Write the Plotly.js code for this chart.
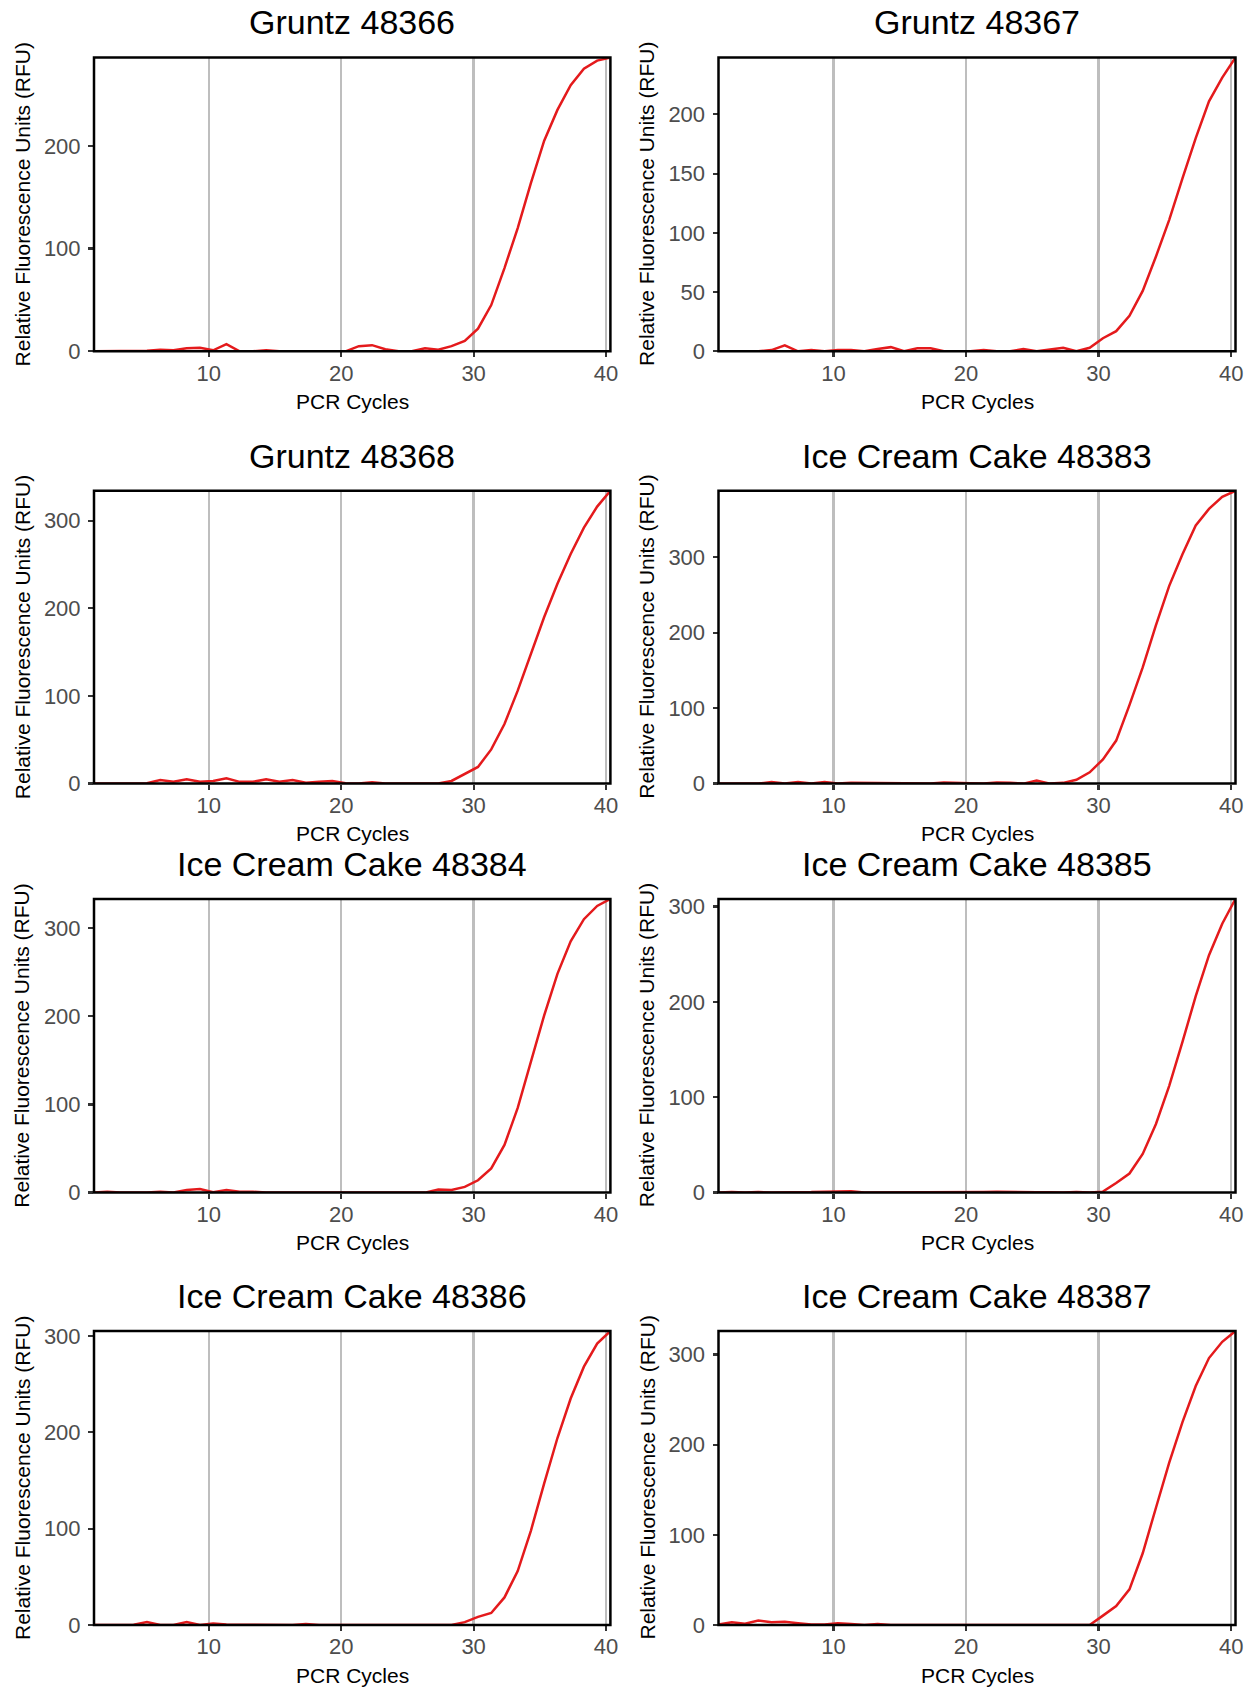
<!DOCTYPE html>
<html>
<head>
<meta charset="utf-8">
<script src="https://cdn.plot.ly/plotly-3.0.1.min.js"></script>
<style>
  html, body { margin: 0; padding: 0; background: #ffffff; }
  #chart { width: 1252px; height: 1687px; }
</style>
</head>
<body>
<div id="chart"></div>
<script>
// ---------- DATA ----------
const sampleTitles = [
  "Gruntz 48366", "Gruntz 48367",
  "Gruntz 48368", "Ice Cream Cake 48383",
  "Ice Cream Cake 48384", "Ice Cream Cake 48385",
  "Ice Cream Cake 48386", "Ice Cream Cake 48387"
];

const cycles = [1.33, 2.33, 3.33, 4.33, 5.33, 6.33, 7.33, 8.33, 9.33, 10.33,
                11.33, 12.33, 13.33, 14.33, 15.33, 16.33, 17.33, 18.33, 19.33, 20.33,
                21.33, 22.33, 23.33, 24.33, 25.33, 26.33, 27.33, 28.33, 29.33, 30.33,
                31.33, 32.33, 33.33, 34.33, 35.33, 36.33, 37.33, 38.33, 39.33, 40.33];

const xTickValues = [10, 20, 30, 40];

const rfuGruntz48366 = [0, 0, 0, 0, 0.5, 1.5, 1, 3, 3.5, 1,
                        7, 0, 0, 1, 0, 0, 0, 0, 0, 0,
                        5, 6, 2, 0, 0, 3, 1.5, 5, 10, 22,
                        45, 81, 120, 164, 205, 235, 259, 275, 283, 286];

const rfuGruntz48367 = [0, 0, 0, 0, 1, 5, 0, 1, 0, 1,
                        1, 0, 2, 3.5, 0, 2.5, 2.5, 0, 0, 0,
                        1, 0, 0, 2, 0, 1.5, 3, 0, 3, 11,
                        17, 30, 51, 80, 111, 146, 180, 211, 231, 248];

const rfuGruntz48368 = [0, 0, 0, 0, 0.5, 4, 2, 5, 2, 3,
                        6, 2, 2, 5, 2, 4, 1, 2, 3, 0.5,
                        0, 1.5, 0, 0, 0, 0, 0, 3, 11, 19,
                        39, 68, 106, 148, 190, 228, 262, 292, 316, 334];

const rfuIceCreamCake48383 = [0, 0, 0, 0, 2, 0, 2, 0, 2, 0,
                              1, 1, 0, 0, 0, 0, 0, 1.5, 0.5, 0.5,
                              0, 1.5, 1, 0, 4, 0, 1, 5, 15, 32,
                              57, 104, 154, 210, 262, 304, 342, 364, 380, 388];

const rfuIceCreamCake48384 = [0, 1, 0, 0, 0, 1, 0, 3, 4, 0.5,
                              3, 1, 1, 0, 0, 0.5, 0, 0, 0, 0,
                              0.5, 0, 0.5, 0, 0, 0, 3.5, 3, 6.5, 14,
                              27.5, 54, 96, 147, 201, 248, 285, 310, 325, 333];

const rfuIceCreamCake48385 = [0, 0.5, 0, 0.5, 0, 0, 0, 0.5, 1, 1,
                              1.5, 0, 0, 0.5, 0.5, 0, 0.3, 0, 0, 0,
                              0.5, 0.8, 0.5, 0, 0.3, 0.3, 0, 0.5, 0, 1,
                              10, 20, 40.5, 72, 112, 158, 206, 249, 282, 308];

const rfuIceCreamCake48386 = [0, 0, 0.5, 0.3, 3, 0, 0, 3, 0, 1.5,
                              0.5, 0.5, 0, 0, 0, 0, 1, 0, 0, 0,
                              0, 0, 0, 0, 0, 0.5, 0.5, 0, 3, 8.4,
                              12.5, 28.6, 56, 98, 147, 194, 235, 268, 292, 305];

const rfuIceCreamCake48387 = [0.5, 3, 1.5, 5, 3, 3.5, 2, 0.5, 0.5, 2,
                              1, 0, 1, 0, 0, 0, 0, 0, 0, 0,
                              0, 0, 0, 0, 0, 0, 0, 0, 0, 10.4,
                              21, 39.5, 79.5, 130, 180, 225, 265, 296, 314, 326];

const yTickStep = [100, 50, 100, 100, 100, 100, 100, 100];

const xAxisTitle = "PCR Cycles";
const yAxisTitle = "Relative Fluorescence Units (RFU)";

const seriesList = [rfuGruntz48366, rfuGruntz48367, rfuGruntz48368, rfuIceCreamCake48383,
                    rfuIceCreamCake48384, rfuIceCreamCake48385, rfuIceCreamCake48386, rfuIceCreamCake48387];

// ---------- LAYOUT GEOMETRY (pixels) ----------
const W = 1252, H = 1687;
const colLeft = [94, 718.5];
const colRight = [610.4, 1235.5];
const rowTop = [57.5, 490.8, 898.9, 1331];
const rowBottom = [351.3, 783.6, 1192.6, 1625];

const px2x = p => p / W;
const px2y = p => 1 - p / H;

const FONT = '"Liberation Sans", Arial, Helvetica, sans-serif';
const LINE_RED = '#E41A1C';

const traces = [];
const layout = {
  width: W, height: H,
  margin: {l: 0, r: 0, t: 0, b: 0},
  paper_bgcolor: '#ffffff',
  plot_bgcolor: '#ffffff',
  showlegend: false,
  font: {family: FONT, color: '#000000'},
  annotations: [],
  shapes: []
};

for (let i = 0; i < seriesList.length; i++) {
  const col = i % 2, row = Math.floor(i / 2);
  const k = i === 0 ? '' : String(i + 1);
  const xa = 'x' + k, ya = 'y' + k;
  const ys = seriesList[i];

  traces.push({
    type: 'scatter', mode: 'lines',
    x: cycles, y: ys,
    xaxis: xa, yaxis: ya,
    line: {color: LINE_RED, width: 2.5},
    hoverinfo: 'x+y'
  });

  layout['xaxis' + k] = {
    domain: [px2x(colLeft[col]), px2x(colRight[col])],
    anchor: ya,
    range: [cycles[0], cycles[cycles.length - 1]],
    tickmode: 'array', tickvals: xTickValues,
    ticktext: xTickValues.map(String),
    showgrid: true, gridcolor: '#BEBEBE', gridwidth: 2.5,
    zeroline: false, showline: false,
    ticks: 'outside', ticklen: 5, tickwidth: 2.2, tickcolor: '#333333',
    tickfont: {family: FONT, size: 22, color: '#4D4D4D'},
    ticklabelstandoff: -3,
    fixedrange: true
  };
  layout['yaxis' + k] = {
    domain: [px2y(rowBottom[row]), px2y(rowTop[row])],
    anchor: xa,
    range: [0, Math.max.apply(null, ys)],
    tickmode: 'linear', tick0: 0, dtick: yTickStep[i],
    showgrid: false, zeroline: false, showline: false,
    ticks: 'outside', ticklen: 5, tickwidth: 2.2, tickcolor: '#333333',
    tickfont: {family: FONT, size: 22, color: '#4D4D4D'},
    ticklabelstandoff: 3,
    fixedrange: true
  };

  // panel border drawn above traces
  layout.shapes.push({
    type: 'rect', xref: xa + ' domain', yref: ya + ' domain',
    x0: 0, x1: 1, y0: 0, y1: 1,
    line: {color: '#000000', width: 2.5},
    fillcolor: 'rgba(0,0,0,0)', layer: 'above'
  });

  const cx = (colLeft[col] + colRight[col]) / 2;
  const cy = (rowTop[row] + rowBottom[row]) / 2;

  // panel title
  layout.annotations.push({
    text: sampleTitles[i], xref: 'paper', yref: 'paper',
    x: px2x(cx), y: px2y(rowTop[row] - 35),
    xanchor: 'center', yanchor: 'middle', showarrow: false,
    font: {family: FONT, size: 34, color: '#000000'}
  });
  // x-axis title
  layout.annotations.push({
    text: xAxisTitle, xref: 'paper', yref: 'paper',
    x: px2x(cx), y: px2y(rowBottom[row] + 50),
    xanchor: 'center', yanchor: 'middle', showarrow: false,
    font: {family: FONT, size: 21, color: '#000000'}
  });
  // y-axis title
  layout.annotations.push({
    text: yAxisTitle, xref: 'paper', yref: 'paper',
    x: px2x(colLeft[col] - 72), y: px2y(cy),
    xanchor: 'center', yanchor: 'middle', showarrow: false,
    textangle: -90,
    font: {family: FONT, size: 21, color: '#000000'}
  });
}

Plotly.newPlot('chart', traces, layout, {displayModeBar: false, staticPlot: true});
</script>
</body>
</html>
